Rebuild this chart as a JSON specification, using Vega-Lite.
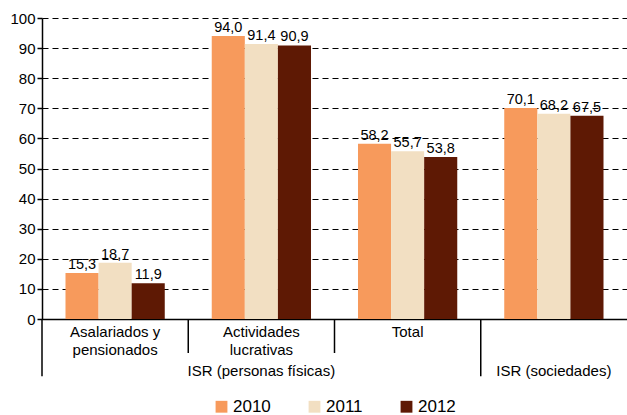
{
  "$schema": "https://vega.github.io/schema/vega-lite/v6.json",
  "width": 585,
  "height": 301,
  "autosize": {"type": "none"},
  "padding": {"left": 42, "top": 18, "right": 0, "bottom": 96},
  "background": "white",
  "config": {
    "font": "Liberation Sans",
    "view": {"stroke": null},
    "locale": {"number": {"decimal": ",", "thousands": ".", "grouping": [3], "currency": ["", ""]}},
    "axisY": {
      "title": null, "values": [0, 10, 20, 30, 40, 50, 60, 70, 80, 90, 100],
      "labelOverlap": false,
      "domainColor": "black", "domainWidth": 1.5, "tickColor": "black", "tickSize": 5, "tickWidth": 1.5,
      "labelFontSize": 15, "labelColor": "black", "labelPadding": 2,
      "grid": true, "gridColor": "black", "gridDash": [6, 4], "gridWidth": 1
    }
  },
  "datasets": {
    "bars": [
      {"categoria": "Asalariados y pensionados", "anio": "2010", "valor": 15.3},
      {"categoria": "Asalariados y pensionados", "anio": "2011", "valor": 18.7},
      {"categoria": "Asalariados y pensionados", "anio": "2012", "valor": 11.9},
      {"categoria": "Actividades lucrativas", "anio": "2010", "valor": 94.0},
      {"categoria": "Actividades lucrativas", "anio": "2011", "valor": 91.4},
      {"categoria": "Actividades lucrativas", "anio": "2012", "valor": 90.9},
      {"categoria": "Total", "anio": "2010", "valor": 58.2},
      {"categoria": "Total", "anio": "2011", "valor": 55.7},
      {"categoria": "Total", "anio": "2012", "valor": 53.8},
      {"categoria": "ISR (sociedades)", "anio": "2010", "valor": 70.1},
      {"categoria": "ISR (sociedades)", "anio": "2011", "valor": 68.2},
      {"categoria": "ISR (sociedades)", "anio": "2012", "valor": 67.5}
    ],
    "divisores": [
      {"categoria": "Asalariados y pensionados", "nivel": "grupo"},
      {"categoria": "Actividades lucrativas", "nivel": "sub"},
      {"categoria": "Total", "nivel": "sub"},
      {"categoria": "ISR (sociedades)", "nivel": "grupo"}
    ],
    "grupos": [
      {"categoria": "Actividades lucrativas", "grupo": "ISR (personas físicas)"},
      {"categoria": "ISR (sociedades)", "grupo": "ISR (sociedades)"}
    ]
  },
  "layer": [
    {
      "data": {"name": "bars"},
      "mark": {"type": "bar"},
      "encoding": {
        "x": {
          "field": "categoria", "type": "nominal", "sort": null,
          "scale": {"paddingInner": 0, "paddingOuter": 0},
          "axis": {
            "title": null, "labelAngle": 0, "ticks": false,
            "domainColor": "black", "domainWidth": 1.5,
            "labelFontSize": 15, "labelColor": "black", "labelPadding": 5,
            "labelLineHeight": 18, "labelBaseline": "top",
            "labelExpr": "datum.value == 'Asalariados y pensionados' ? ['Asalariados y', 'pensionados'] : datum.value == 'Actividades lucrativas' ? ['Actividades', 'lucrativas'] : datum.value == 'ISR (sociedades)' ? '' : datum.value"
          }
        },
        "xOffset": {"field": "anio", "type": "nominal", "scale": {"paddingInner": 0, "paddingOuter": 0.71}},
        "y": {
          "field": "valor", "type": "quantitative",
          "scale": {"domain": [0, 100]}
        },
        "color": {
          "field": "anio", "type": "nominal",
          "scale": {"domain": ["2010", "2011", "2012"], "range": ["#F79A5C", "#F2DFC2", "#5E1904"]},
          "legend": {
            "title": null, "orient": "none", "direction": "horizontal",
            "legendX": 171, "legendY": 380,
            "symbolType": "square", "symbolSize": 140, "symbolStrokeWidth": 0,
            "labelFontSize": 17, "labelColor": "black", "labelOffset": 3,
            "columnPadding": 35
          }
        }
      }
    },
    {
      "data": {"name": "bars"},
      "mark": {"type": "text", "baseline": "bottom", "dy": -1, "fontSize": 14.5, "color": "black"},
      "encoding": {
        "x": {"field": "categoria", "type": "nominal", "sort": null},
        "xOffset": {"field": "anio", "type": "nominal"},
        "y": {"field": "valor", "type": "quantitative"},
        "text": {"field": "valor", "type": "quantitative", "format": ".1f"}
      }
    },
    {
      "data": {"name": "divisores"},
      "transform": [{"filter": "datum.nivel == 'sub'"}],
      "mark": {"type": "rule", "color": "black", "strokeWidth": 1.5, "clip": false},
      "encoding": {
        "x": {"field": "categoria", "type": "nominal", "sort": null, "bandPosition": 0},
        "y": {"datum": 0},
        "y2": {"datum": -11.3}
      }
    },
    {
      "data": {"name": "divisores"},
      "transform": [{"filter": "datum.nivel == 'grupo'"}],
      "mark": {"type": "rule", "color": "black", "strokeWidth": 1.5, "clip": false},
      "encoding": {
        "x": {"field": "categoria", "type": "nominal", "sort": null, "bandPosition": 0},
        "y": {"datum": 0},
        "y2": {"datum": -19}
      }
    },
    {
      "data": {"name": "grupos"},
      "mark": {"type": "text", "baseline": "middle", "dy": 52, "fontSize": 15, "color": "black"},
      "encoding": {
        "x": {"field": "categoria", "type": "nominal", "sort": null},
        "y": {"datum": 0},
        "text": {"field": "grupo"}
      }
    }
  ]
}
